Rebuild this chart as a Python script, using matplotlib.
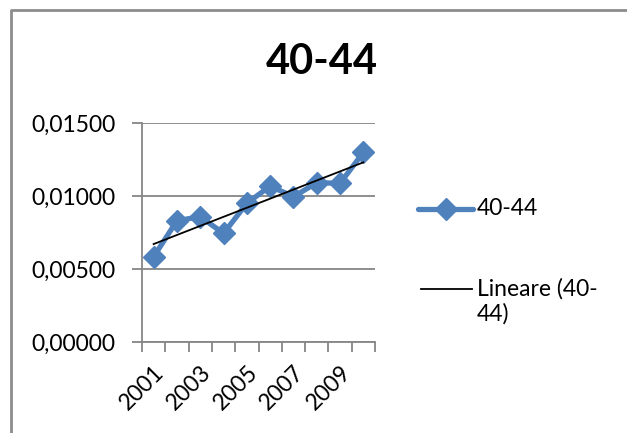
import numpy as np
import matplotlib
matplotlib.use("Agg")
import matplotlib.pyplot as plt
from matplotlib.lines import Line2D
from matplotlib.ticker import FixedLocator, FuncFormatter

plt.rcParams['font.family'] = ['Lato', 'DejaVu Sans']

years = [2001, 2002, 2003, 2004, 2005, 2006, 2007, 2008, 2009, 2010]
rates = [0.00584, 0.00831, 0.00858, 0.00744, 0.00950,
         0.01068, 0.00995, 0.01091, 0.01087, 0.01299]
series_name = "40-44"
trend_name = "Lineare (40-\n44)"
y_ticks = [0.0, 0.005, 0.010, 0.015]

W, H = 627, 433
fig = plt.figure(figsize=(W / 100, H / 100), dpi=100)
ax = fig.add_axes([142 / W, 1 - 342 / H, 233 / W, 219 / H])

blue = "#4F81BD"
grey = "#868686"
fs = 16.5

x = np.arange(len(years))
ax.plot(x, rates, color=blue, lw=3.8, marker="D", ms=11.5,
        markerfacecolor=blue, markeredgecolor=blue, zorder=3)

# linear trend line
slope, intercept = np.polyfit(x, rates, 1)
ax.plot(x, slope * x + intercept, color="black", lw=1.3, zorder=4)

ax.set_xlim(-0.5, len(years) - 0.5)
ax.set_ylim(0, 0.015)

ax.set_yticks(y_ticks)
ax.yaxis.set_major_formatter(FuncFormatter(lambda v, p: f"{v:.5f}".replace(".", ",")))
ax.yaxis.grid(True, color=grey, lw=1.3)
ax.set_axisbelow(True)

# category boundaries carry the tick marks, labels sit on every other year
ax.xaxis.set_major_locator(FixedLocator(np.arange(-0.5, len(years), 1.0)))
ax.xaxis.set_major_formatter(FuncFormatter(lambda v, p: ""))
ax.xaxis.set_minor_locator(FixedLocator(x[::2]))
ax.set_xticklabels([str(y) for y in years[::2]], minor=True)
ax.tick_params(axis="x", which="major", length=7, width=1.3, color=grey, direction="out")
ax.tick_params(axis="x", which="minor", length=0, pad=14, labelsize=fs)
for lbl in ax.get_xticklabels(minor=True):
    lbl.set_rotation(45)
    lbl.set_ha("right")
    lbl.set_va("top")
    lbl.set_rotation_mode("anchor")

ax.tick_params(axis="y", length=7, width=1.3, color=grey, direction="out", pad=12, labelsize=fs)

for side in ("top", "right"):
    ax.spines[side].set_visible(False)
for side in ("left", "bottom"):
    ax.spines[side].set_color(grey)
    ax.spines[side].set_linewidth(1.3)

fig.text(322 / W, 1 - 62 / H, series_name, ha="center", va="center",
         fontsize=30, fontweight="bold")

# legend
fig.add_artist(Line2D([418 / W, 473 / W], [1 - 209 / H, 1 - 209 / H],
                      transform=fig.transFigure, color=blue, lw=3.8,
                      solid_capstyle="round"))
fig.add_artist(Line2D([445.5 / W], [1 - 209 / H], transform=fig.transFigure,
                      marker="D", ms=11.5, color=blue, lw=0))
fig.text(477 / W, 1 - 209 / H, series_name, ha="left", va="center", fontsize=fs)
fig.add_artist(Line2D([421 / W, 472 / W], [1 - 289 / H, 1 - 289 / H],
                      transform=fig.transFigure, color="black", lw=1.3))
fig.text(477 / W, 1 - 278 / H, trend_name, ha="left", va="top", fontsize=fs,
         linespacing=1.2)

# chart frame
fig.add_artist(Line2D([11 / W, 11 / W, 1], [0, 1 - 10 / H, 1 - 10 / H],
                      transform=fig.transFigure, color="#8c8c8c", lw=2))

fig.savefig("out.png", dpi=100)
